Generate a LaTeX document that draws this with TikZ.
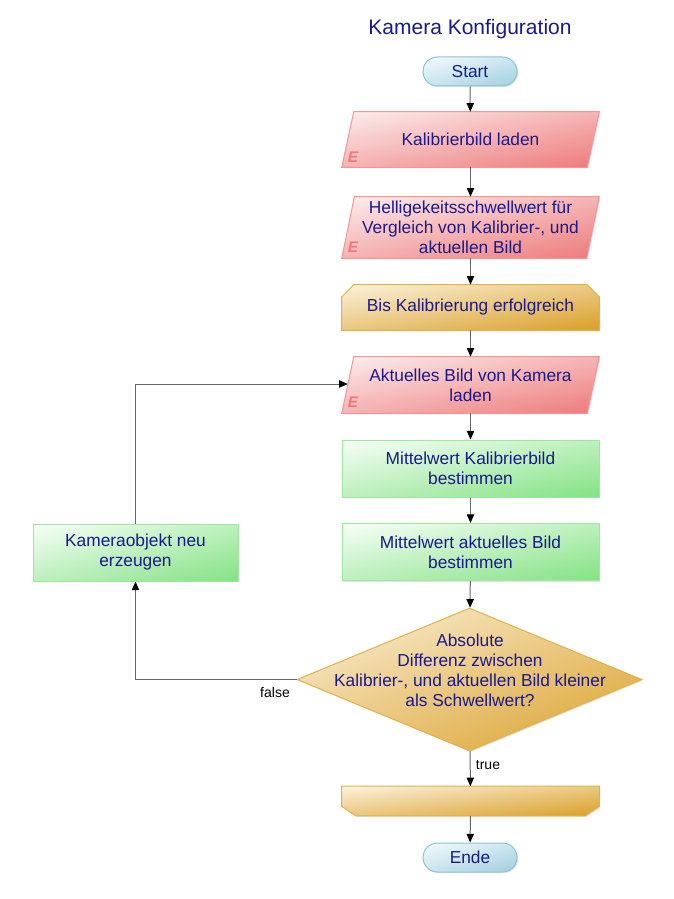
\documentclass[tikz,border=0pt]{standalone}
\usepackage{fontspec}
\setmainfont{Liberation Sans}
\usetikzlibrary{shapes.geometric,shapes.misc,arrows.meta,shadows}
\pgfdeclarelayer{background}
\pgfsetlayers{background,main}
\definecolor{txtc}{RGB}{26,26,140}
\definecolor{bluelt}{RGB}{246,251,253}
\definecolor{bluedk}{RGB}{160,208,224}
\definecolor{bluebd}{RGB}{140,194,214}
\definecolor{redlt}{RGB}{253,238,238}
\definecolor{reddk}{RGB}{238,122,122}
\definecolor{redbd}{RGB}{242,150,150}
\definecolor{redE}{RGB}{240,120,120}
\definecolor{greenlt}{RGB}{248,255,248}
\definecolor{greendk}{RGB}{132,226,132}
\definecolor{greenbd}{RGB}{156,232,156}
\definecolor{goldlt}{RGB}{252,242,220}
\definecolor{golddk}{RGB}{218,160,40}
\definecolor{goldbd}{RGB}{226,178,72}
\begin{document}
\begin{tikzpicture}[x=0.75pt,y=-0.75pt,
  shd/.style={drop shadow={shadow xshift=0.9pt, shadow yshift=-0.9pt, opacity=0.22}},
  grad/.style n args={3}{shd,
    preaction={left color=#1, right color=#2},
    preaction={top color=#1, bottom color=#2, fill opacity=0.5},
    draw=#3, line width=0.75pt},
  redshape/.style={grad={redlt}{reddk}{redbd}},
  greenshape/.style={grad={greenlt}{greendk}{greenbd}},
  goldshape/.style={grad={goldlt}{golddk}{goldbd}},
  blueshape/.style={grad={bluelt}{bluedk}{bluebd}},
  txt/.style={font=\fontsize{13}{15}\selectfont, text=txtc, align=center, inner sep=0pt},
  holder/.style={txt, rectangle, minimum width=192.75pt},
  terminal/.style={txt, rounded rectangle, blueshape, minimum width=70.5pt, minimum height=21.75pt},
  procbox/.style={txt, rectangle, greenshape, minimum height=42.75pt},
  decbox/.style={diamond, inner sep=0pt, goldshape, minimum width=258.75pt, minimum height=107.25pt},
  emark/.style={font=\fontsize{11.5}{12}\selectfont\bfseries\itshape, text=redE, inner sep=0pt},
  lbl/.style={font=\fontsize{10.5}{12}\selectfont, text=black, inner sep=0pt},
  conn/.style={draw=black!60, line width=0.75pt, -{Triangle[length=6.5pt,width=5.5pt,color=black]}}
]
\useasboundingbox (0,0) rectangle (674,899);

\node[font=\fontsize{15.75}{18}\selectfont, text=txtc] (title) at (470,29) {Kamera Konfiguration};

\node[terminal] (start) at (470,71.5) {Start};
\node[holder, minimum height=41.25pt] (kal) at (470.5,139.5) {Kalibrierbild laden};
\node[emark] (e1) at (353,157.5) {E};
\node[holder, minimum height=45.75pt] (hell) at (470.5,227.5) {Helligekeitsschwellwert für\\Vergleich von Kalibrier-, und\\aktuellen Bild};
\node[emark] (e2) at (353,247) {E};
\node[holder, minimum height=33.75pt] (bis) at (470.5,307.5) {Bis Kalibrierung erfolgreich};
\node[holder, minimum height=42pt] (akt) at (470.5,385) {Aktuelles Bild von Kamera\\laden};
\node[emark] (e3) at (353,402) {E};
\node[procbox, minimum width=192.75pt] (mk) at (470.5,468.5) {Mittelwert Kalibrierbild\\bestimmen};
\node[procbox, minimum width=192.75pt] (ma) at (470.5,552) {Mittelwert aktuelles Bild\\bestimmen};
\node[procbox, minimum width=153.75pt] (neu) at (135.5,552.5) {Kameraobjekt neu\\erzeugen};
\node[decbox] (dia) at (469.5,679.5) {};
\node[txt] (dtext) at (470,670) {Absolute\\Differenz zwischen\\Kalibrier-, und aktuellen Bild kleiner\\als Schwellwert?};
\node[holder, minimum height=21.75pt] (lend) at (470.5,801) {};
\node[terminal] (ende) at (470,857.5) {Ende};

\begin{pgfonlayer}{background}
  \path[redshape] ([xshift=9pt]kal.north west) -- (kal.north east) -- ([xshift=-9pt]kal.south east) -- (kal.south west) -- cycle;
  \path[redshape] ([xshift=9.5pt]hell.north west) -- (hell.north east) -- ([xshift=-9.5pt]hell.south east) -- (hell.south west) -- cycle;
  \path[redshape] ([xshift=9pt]akt.north west) -- (akt.north east) -- ([xshift=-9pt]akt.south east) -- (akt.south west) -- cycle;
  \path[goldshape] ([yshift=-9pt]bis.north west) -- ([xshift=9pt]bis.north west) -- ([xshift=-9pt]bis.north east)
     -- ([yshift=-9pt]bis.north east) -- (bis.south east) -- (bis.south west) -- cycle;
  \path[goldshape] (lend.north west) -- (lend.north east) -- ([yshift=7pt]lend.south east) -- ([xshift=-10.5pt]lend.south east)
     -- ([xshift=10.5pt]lend.south west) -- ([yshift=7pt]lend.south west) -- cycle;
\end{pgfonlayer}

\draw[conn] (start) -- (kal);
\draw[conn] (kal) -- (hell);
\draw[conn] (hell) -- (bis);
\draw[conn] (bis) -- (akt);
\draw[conn] (akt) -- (mk);
\draw[conn] (mk) -- (ma);
\draw[conn] (ma) -- (dia);
\draw[conn] (dia) -- (lend);
\draw[conn] (lend) -- (ende);
\draw[conn] (dia.west) -| (neu.south);
\draw[conn] (neu.north) |- ([xshift=4.5pt,yshift=0.75pt]akt.west);

\node[lbl] (lfalse) at (275,692) {false};
\node[lbl] (ltrue) at (488,765) {true};
\end{tikzpicture}
\end{document}
